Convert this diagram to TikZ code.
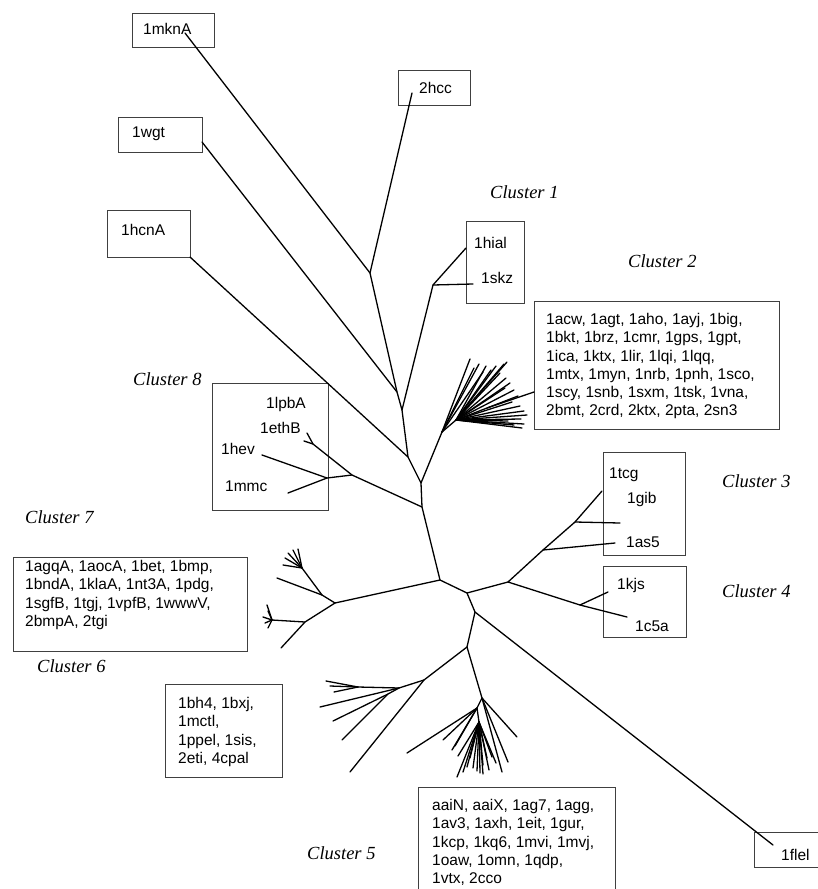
\documentclass[tikz,border=0pt]{standalone}
\usepackage{fontspec}
\setmainfont{Liberation Sans}
\newfontfamily\clfont{Liberation Serif}
\tikzset{
  treeline/.style={line width=1.3pt, black, line cap=round},
  grpbox/.style={rectangle, draw=black!75, line width=1pt, inner sep=0pt, anchor=north west},
  protlabel/.style={inner sep=0pt, anchor=base west, font=\fontsize{15.5}{18.3}\selectfont},
  protlist/.style={inner sep=0pt, anchor=north west, align=left, font=\fontsize{15.5}{18.3}\selectfont},
  clustername/.style={inner sep=0pt, anchor=base west, font=\clfont\itshape\fontsize{18.5}{20}\selectfont},
}

\begin{document}
\begin{tikzpicture}[x=1pt, y=-1pt]
  \useasboundingbox (0,0) rectangle (818,889);

  % boxes
  \node[grpbox, minimum width=82pt, minimum height=34pt] (bmkn) at (132,13) {};
  \node[grpbox, minimum width=72pt, minimum height=35pt] (bhcc) at (398,70) {};
  \node[grpbox, minimum width=84pt, minimum height=35pt] (bwgt) at (118,117) {};
  \node[grpbox, minimum width=83pt, minimum height=47pt] (bhcn) at (107,210) {};
  \node[grpbox, minimum width=58pt, minimum height=82pt] (box1) at (466,221) {};
  \node[grpbox, minimum width=245pt, minimum height=128pt] (box2) at (534,301) {};
  \node[grpbox, minimum width=116pt, minimum height=127pt] (box8) at (212,383) {};
  \node[grpbox, minimum width=82pt, minimum height=103pt] (box3) at (603,452) {};
  \node[grpbox, minimum width=83pt, minimum height=71pt] (box4) at (603,566) {};
  \node[grpbox, minimum width=234pt, minimum height=94pt] (box7) at (13,557) {};
  \node[grpbox, minimum width=117pt, minimum height=93pt] (box6) at (165,684) {};
  \node[grpbox, minimum width=197pt, minimum height=110pt] (box5) at (418,787) {};
  \node[grpbox, minimum width=70pt, minimum height=35pt] (bflel) at (754,832) {};

  % labels
  \node[protlabel] (lmkn) at (143,34) {1mknA};
  \node[protlabel] (lhcc) at (419,93) {2hcc};
  \node[protlabel] (lwgt) at (132,137) {1wgt};
  \node[protlabel] (lhcn) at (121,235) {1hcnA};
  \node[protlabel] (lhial) at (474,248) {1hial};
  \node[protlabel] (lskz) at (481,283) {1skz};
  \node[protlabel] (llpb) at (266,408) {1lpbA};
  \node[protlabel] (leth) at (260,433) {1ethB};
  \node[protlabel] (lhev) at (221,454) {1hev};
  \node[protlabel] (lmmc) at (225,491) {1mmc};
  \node[protlabel] (ltcg) at (609,478) {1tcg};
  \node[protlabel] (lgib) at (627,503) {1gib};
  \node[protlabel] (las5) at (626,547) {1as5};
  \node[protlabel] (lkjs) at (617,589) {1kjs};
  \node[protlabel] (lc5a) at (635,631) {1c5a};
  \node[protlabel] (lflel) at (781,860) {1flel};

  \node[protlist] (list2) at (546,313) {1acw, 1agt, 1aho, 1ayj, 1big,\\1bkt, 1brz, 1cmr, 1gps, 1gpt,\\1ica, 1ktx, 1lir, 1lqi, 1lqq,\\1mtx, 1myn, 1nrb, 1pnh, 1sco,\\1scy, 1snb, 1sxm, 1tsk, 1vna,\\2bmt, 2crd, 2ktx, 2pta, 2sn3};
  \node[protlist] (list7) at (25,560) {1agqA, 1aocA, 1bet, 1bmp,\\1bndA, 1klaA, 1nt3A, 1pdg,\\1sgfB, 1tgj, 1vpfB, 1wwwV,\\2bmpA, 2tgi};
  \node[protlist] (list6) at (178,697) {1bh4, 1bxj,\\1mctl,\\1ppel, 1sis,\\2eti, 4cpal};
  \node[protlist] (list5) at (432,799) {aaiN, aaiX, 1ag7, 1agg,\\1av3, 1axh, 1eit, 1gur,\\1kcp, 1kq6, 1mvi, 1mvj,\\1oaw, 1omn, 1qdp,\\1vtx, 2cco};

  \node[clustername] (cl1) at (490,198) {Cluster 1};
  \node[clustername] (cl2) at (628,267) {Cluster 2};
  \node[clustername] (cl3) at (722,487) {Cluster 3};
  \node[clustername] (cl4) at (722,597) {Cluster 4};
  \node[clustername] (cl5) at (307,859) {Cluster 5};
  \node[clustername] (cl6) at (37,672) {Cluster 6};
  \node[clustername] (cl7) at (25,523) {Cluster 7};
  \node[clustername] (cl8) at (133,385) {Cluster 8};

  % inner points of the tree
  \coordinate (J1) at (370,273);
  \coordinate (J2) at (397,392);
  \coordinate (J3) at (402,410);
  \coordinate (J4) at (408,457);
  \coordinate (J5) at (421,483);
  \coordinate (J6) at (422,507);
  \coordinate (J7) at (440,580);
  \coordinate (J8) at (467,593);
  \coordinate (J9) at (508,582);
  \coordinate (J10) at (475,612);
  \coordinate (J11) at (467,647);
  \coordinate (C1) at (433,285);
  \coordinate (F2) at (442,432);
  \coordinate (F2b) at (456,420);
  \coordinate (C8a) at (352,475);
  \coordinate (C8b) at (327,478);
  \coordinate (E8) at (313,444);
  \coordinate (C3a) at (543,550);
  \coordinate (C3b) at (575,522);
  \coordinate (C4) at (580,605);
  \coordinate (C7) at (335,603);
  \coordinate (C7a) at (322,595);
  \coordinate (T7a) at (302,568);
  \coordinate (C7b) at (305,622);
  \coordinate (T7b) at (272,620);
  \coordinate (C6a) at (424,680);
  \coordinate (C6b) at (399,688);
  \coordinate (C6c) at (388,694);
  \coordinate (T6) at (358,687);
  \coordinate (C5) at (482,698);
  \coordinate (F5) at (477,708);
  \coordinate (F5b) at (479,722);

  % leaf ends
  \coordinate (emkn) at (185,33);
  \coordinate (ehcc) at (412,93);
  \coordinate (ewgt) at (202,142);
  \coordinate (ehcn) at (190,257);
  \coordinate (ehial) at (466,248);
  \coordinate (eskz) at (473,284);
  \coordinate (eb2) at (534,392);
  \coordinate (ef2) at (487,408);
  \coordinate (ehev) at (262,455);
  \coordinate (emmc) at (288,493);
  \coordinate (eeth) at (307,433);
  \coordinate (eeth2) at (304,441);
  \coordinate (etcg) at (602,491);
  \coordinate (egib) at (620,523);
  \coordinate (eas5) at (615,543);
  \coordinate (ekjs) at (608,592);
  \coordinate (ec5a) at (627,617);
  \coordinate (eflel) at (773,845);
  \coordinate (e7a) at (277,578);
  \coordinate (e7b) at (281,648);
  \coordinate (e6a) at (350,772);
  \coordinate (e6b) at (320,707);
  \coordinate (e6c) at (333,721);
  \coordinate (e6d) at (342,740);

  \draw[treeline] (emkn) -- (J1) -- (J2) -- (J3) -- (J4) -- (J5) -- (J6) -- (J7) -- (J8) -- (J10) -- (J11);
  \draw[treeline] (J1) -- (ehcc);
  \draw[treeline] (J2) -- (ewgt);
  \draw[treeline] (J3) -- (C1) -- (ehial);
  \draw[treeline] (C1) -- (eskz);
  \draw[treeline] (J4) -- (ehcn);
  \draw[treeline] (J5) -- (F2) -- (F2b);
  \draw[treeline] (eb2) -- (ef2);
  \draw[treeline] (J6) -- (C8a) -- (C8b) -- (ehev);
  \draw[treeline] (C8b) -- (emmc);
  \draw[treeline] (C8a) -- (E8) -- (eeth);
  \draw[treeline] (E8) -- (eeth2);
  \draw[treeline] (J8) -- (J9) -- (C3a) -- (C3b) -- (etcg);
  \draw[treeline] (C3b) -- (egib);
  \draw[treeline] (C3a) -- (eas5);
  \draw[treeline] (J9) -- (C4) -- (ekjs);
  \draw[treeline] (C4) -- (ec5a);
  \draw[treeline] (J10) -- (eflel);
  \draw[treeline] (J7) -- (C7) -- (C7a) -- (T7a);
  \draw[treeline] (C7a) -- (e7a);
  \draw[treeline] (C7) -- (C7b) -- (T7b);
  \draw[treeline] (C7b) -- (e7b);
  \draw[treeline] (J11) -- (C6a) -- (e6a);
  \draw[treeline] (C6a) -- (C6b) -- (e6b);
  \draw[treeline] (C6b) -- (T6);
  \draw[treeline] (C6b) -- (C6c) -- (e6c);
  \draw[treeline] (C6c) -- (e6d);
  \draw[treeline] (J11) -- (C5) -- (F5) -- (F5b);

  % fans
  \foreach \x/\y [count=\i] in {470/359, 474/368, 479/364, 483/372}
    {\coordinate (f2-\i) at (\x,\y); \draw[treeline] (F2) -- (f2-\i);}
  \foreach \x/\y [count=\i] in {486/366, 491/370, 496/366, 500/373, 504/364, 507/362, 506/378, 510/383,
      505/388, 514/390, 518/396, 512/402, 520/406, 524/411, 527/415, 521/419, 524/424, 522/428, 514/425, 508/421}
    {\coordinate (g2-\i) at (\x,\y); \draw[treeline] (F2b) -- (g2-\i);}
  \foreach \x/\y [count=\i] in {407/753, 443/740, 452/750, 455/746}
    {\coordinate (f5-\i) at (\x,\y); \draw[treeline] (F5) -- (f5-\i);}
  \foreach \x/\y [count=\i] in {457/777, 458/756, 463/772, 467/767, 470/758, 473/768, 477/771, 480/773,
      483/774, 483/765, 487/758, 492/757, 496/763, 489/770}
    {\coordinate (g5-\i) at (\x,\y); \draw[treeline] (F5b) -- (g5-\i);}
  \foreach \x/\y [count=\i] in {517/737, 508/762, 502/772}
    {\coordinate (r5-\i) at (\x,\y); \draw[treeline] (C5) -- (r5-\i);}
  \foreach \x/\y [count=\i] in {285/558, 288/553, 293/550, 298/549, 283/565}
    {\coordinate (t7a-\i) at (\x,\y); \draw[treeline] (T7a) -- (t7a-\i);}
  \foreach \x/\y [count=\i] in {267/605, 268/611, 263/617, 265/623, 268/628}
    {\coordinate (t7b-\i) at (\x,\y); \draw[treeline] (T7b) -- (t7b-\i);}
  \foreach \x/\y [count=\i] in {326/681, 330/686, 334/692}
    {\coordinate (t6-\i) at (\x,\y); \draw[treeline] (T6) -- (t6-\i);}
\end{tikzpicture}
\end{document}
